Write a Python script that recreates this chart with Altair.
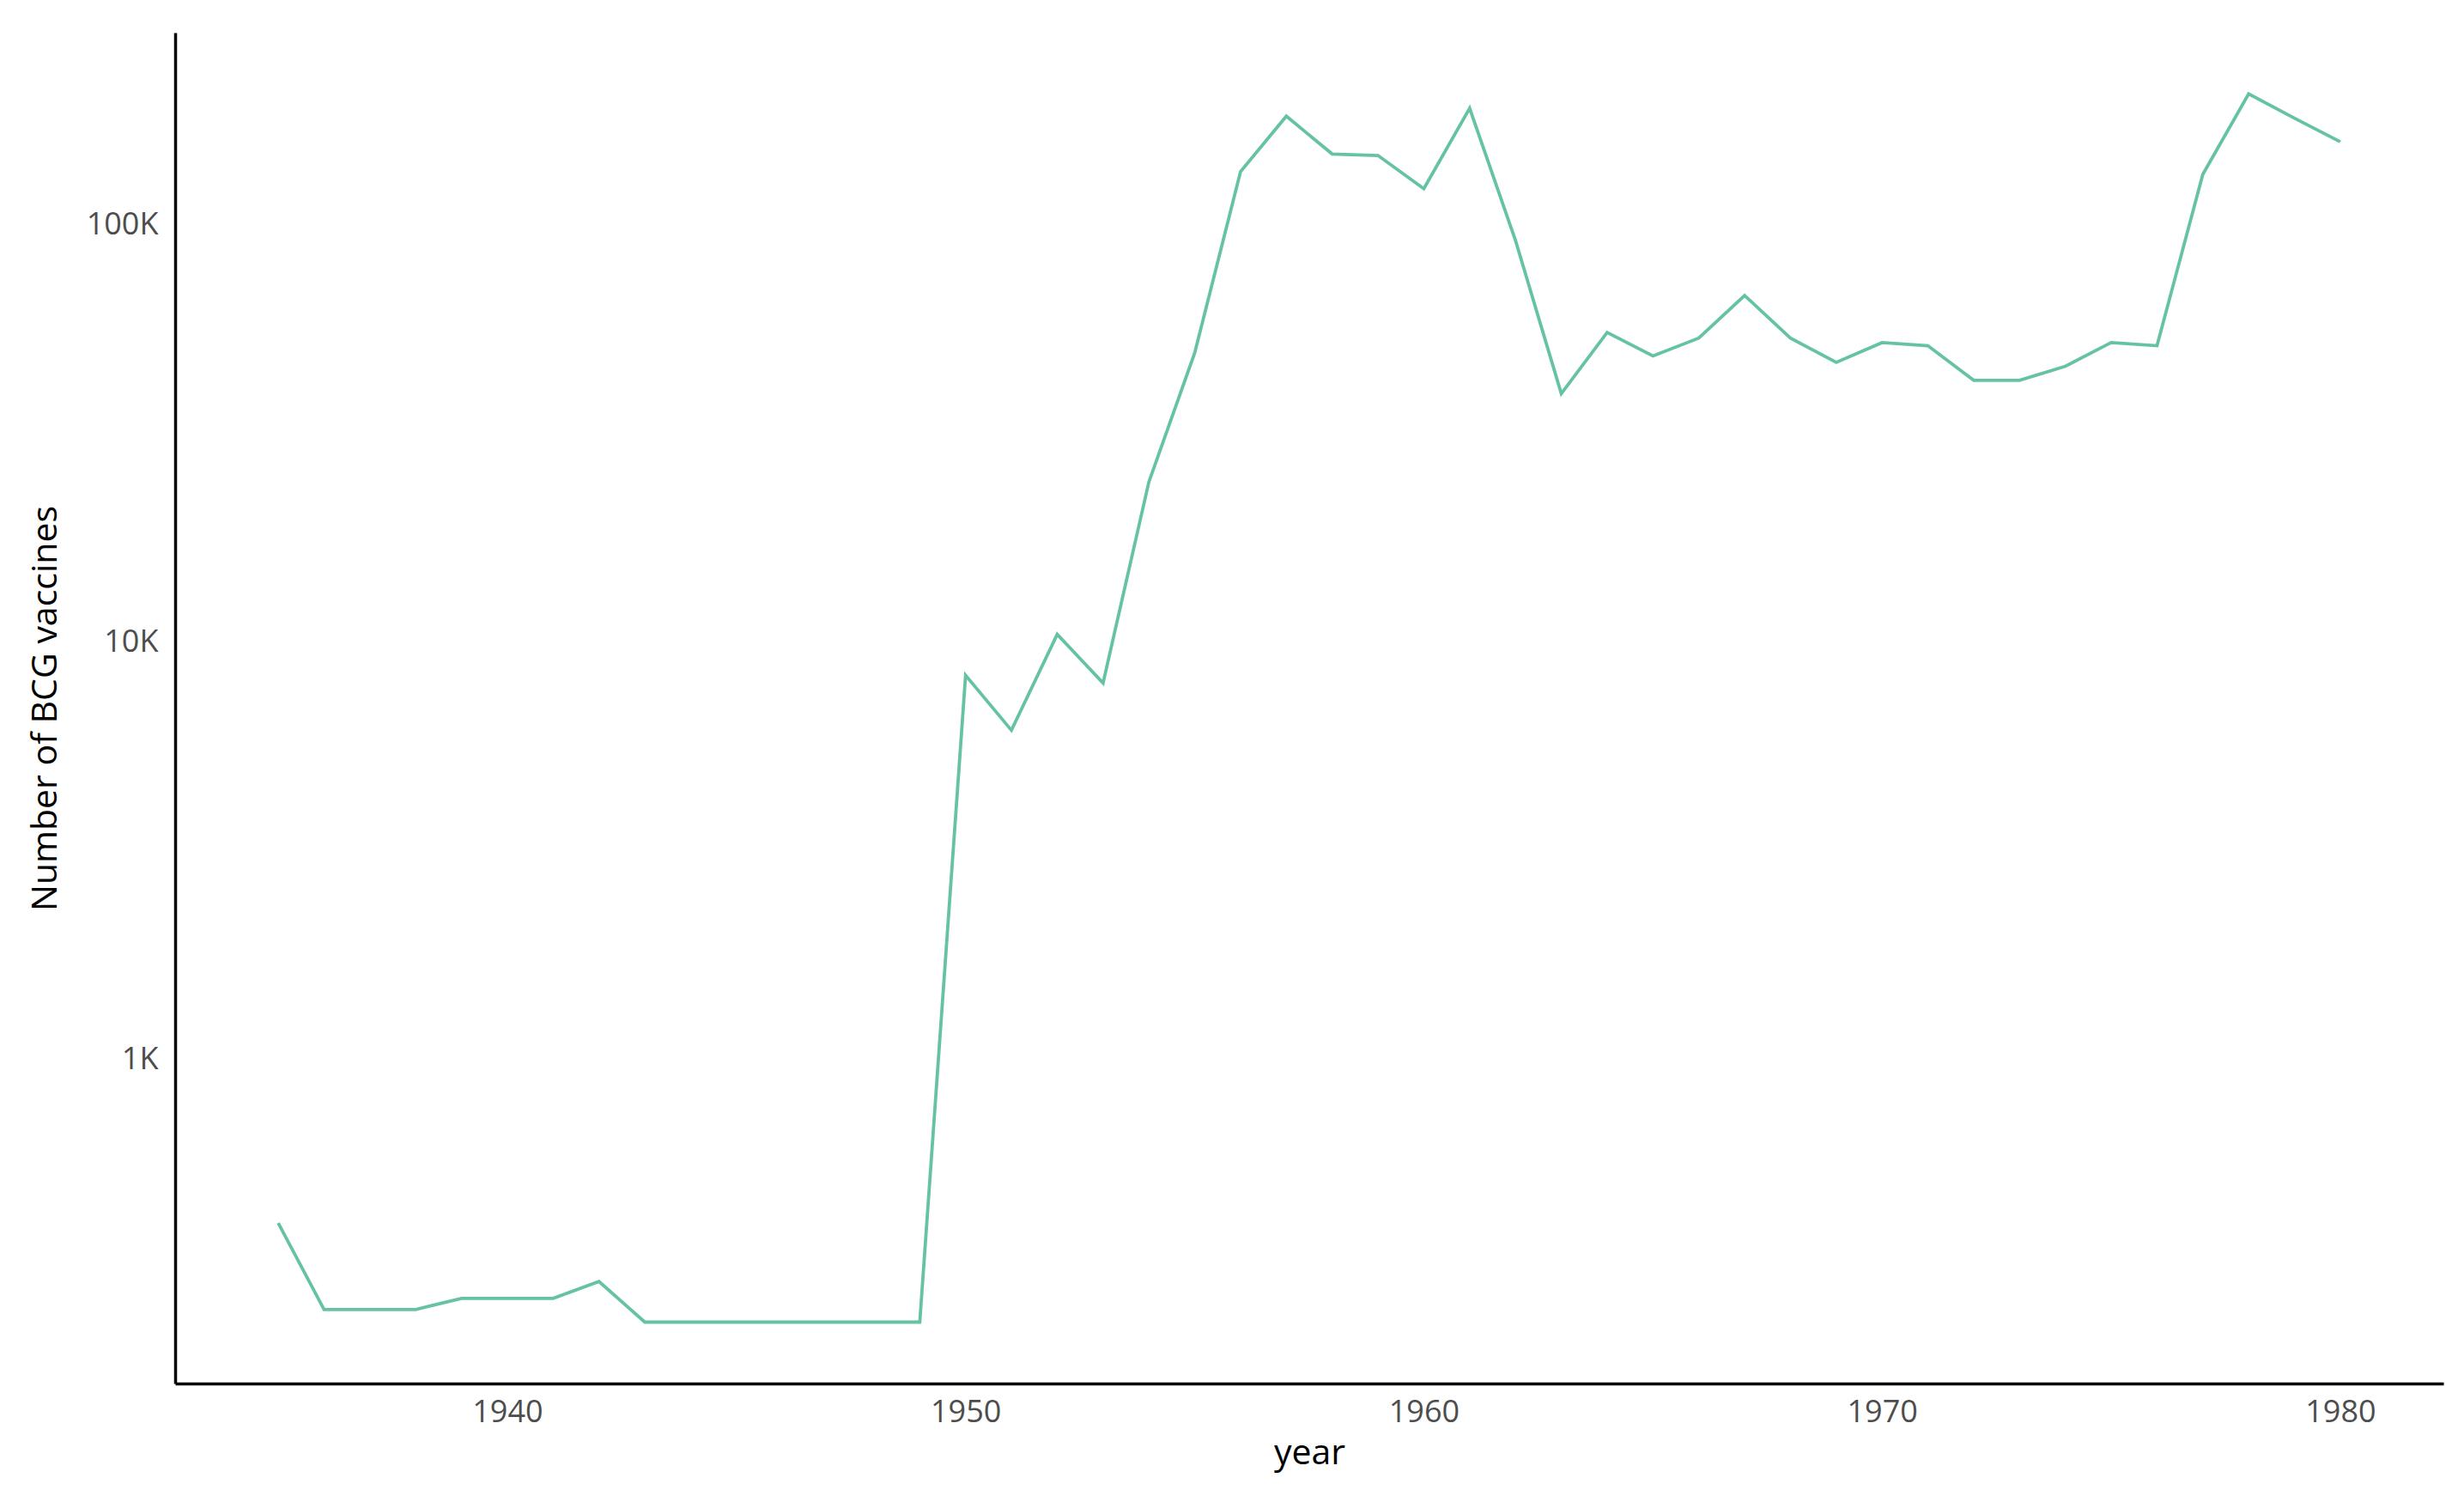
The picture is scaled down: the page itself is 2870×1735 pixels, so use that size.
import altair as alt
import pandas as pd

years = list(range(1935, 1981))
vaccines = [
    406, 252, 252, 252, 268, 268, 268, 294, 235, 235,
    235, 235, 235, 235, 235, 8330, 6150, 10440, 7980, 24200,
    49300, 134000, 182000, 147700, 146500, 122000, 190000, 91700, 39400, 55200,
    48500, 53500, 67700, 53500, 46800, 52200, 51300, 42400, 42400, 45800,
    52200, 51300, 132000, 205800, 180000, 158000,
]
y_ticks = [1000, 10000, 100000]
x_ticks = [1940, 1950, 1960, 1970, 1980]

df = pd.DataFrame({"year": years, "n": vaccines})

FONT = "Open Sans"

chart = (
    alt.Chart(df)
    .mark_line(color="#66c2a5", strokeWidth=3.8)
    .encode(
        x=alt.X(
            "year:Q",
            scale=alt.Scale(domain=[1932.75, 1982.25], nice=False, zero=False),
            axis=alt.Axis(
                values=x_ticks, format="d", title="year",
                titleFontSize=41, titleFont=FONT, titleFontWeight="normal",
                titleColor="#000000", titlePadding=10,
                labelFontSize=36, labelFont=FONT, labelColor="#4d4d4d",
                labelPadding=16, ticks=False, grid=False,
                domainColor="#000000", domainWidth=3.5,
            ),
        ),
        y=alt.Y(
            "n:Q",
            scale=alt.Scale(type="log", domain=[167.5, 288500], nice=False),
            axis=alt.Axis(
                values=y_ticks,
                labelExpr="datum.value / 1000 + 'K'",
                title="Number of BCG vaccines",
                titleFontSize=41, titleFont=FONT, titleFontWeight="normal",
                titleColor="#000000", titlePadding=26,
                labelFontSize=36, labelFont=FONT, labelColor="#4d4d4d",
                labelPadding=20, labelBaseline="middle", ticks=False, grid=False,
                domainColor="#000000", domainWidth=3.5,
            ),
        ),
    )
    .properties(
        width=2642, height=1573,
        background="white",
        autosize=alt.AutoSizeParams(type="none"),
        padding={"left": 196, "top": 30, "right": 16, "bottom": 110},
    )
    .configure_view(strokeWidth=0, stroke="transparent")
)

chart.save("out.html", embed_options={"renderer": "svg", "actions": False})
